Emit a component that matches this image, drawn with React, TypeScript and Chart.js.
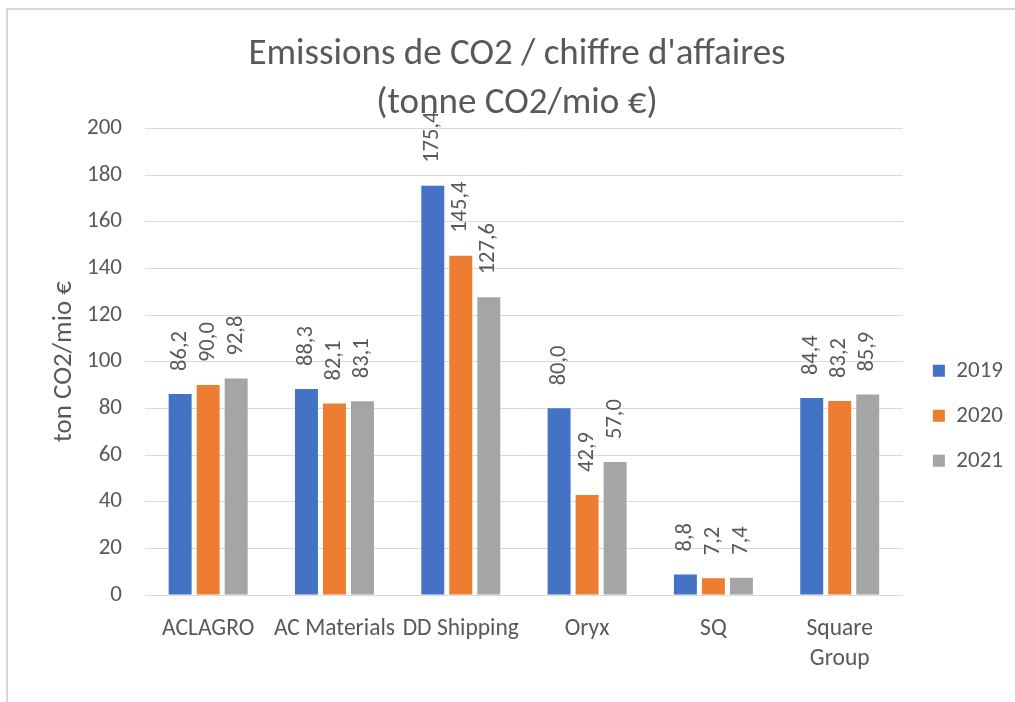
import React, { useEffect, useRef } from "react";
import { Chart, registerables } from "chart.js";

Chart.register(...registerables);

const categories: (string | string[])[] = ["ACLAGRO", "AC Materials", "DD Shipping", "Oryx", "SQ", ["Square", "Group"]];
const seriesNames = ["2019", "2020", "2021"];
const values2019 = [86.2, 88.3, 175.4, 80.0, 8.8, 84.4];
const values2020 = [90.0, 82.1, 145.4, 42.9, 7.2, 83.2];
const values2021 = [92.8, 83.1, 127.6, 57.0, 7.4, 85.9];
const seriesColors = ["#4472C4", "#ED7D31", "#A5A5A5"];
const titleLines = ["Emissions de CO2 / chiffre d'affaires", "(tonne CO2/mio €)"];
const yAxisTitle = "ton CO2/mio €";

const FONT = "Carlito, Calibri, 'Liberation Sans Narrow', 'DejaVu Sans Condensed', 'Open Sans', sans-serif";
const TEXT = "#595959";

const valueLabels = {
  id: "valueLabels",
  afterDatasetsDraw(chart: any) {
    const ctx = chart.ctx;
    ctx.save();
    ctx.fillStyle = TEXT;
    ctx.font = `22.5px ${FONT}`;
    ctx.textAlign = "left";
    ctx.textBaseline = "middle";
    chart.data.datasets.forEach((ds: any, di: number) => {
      const meta = chart.getDatasetMeta(di);
      meta.data.forEach((bar: any, i: number) => {
        const v = ds.data[i] as number;
        const txt = v.toFixed(1).replace(".", ",");
        ctx.save();
        ctx.translate(bar.x, bar.y - 23);
        ctx.rotate(-Math.PI / 2);
        ctx.fillText(txt, 0, 0);
        ctx.restore();
      });
    });
    ctx.restore();
  },
};

export default function App() {
  const ref = useRef<HTMLCanvasElement>(null);
  useEffect(() => {
    document.body.style.margin = "0";
    const chart = new Chart(ref.current!, {
      type: "bar",
      data: {
        labels: categories,
        datasets: [values2019, values2020, values2021].map((d, i) => ({
          label: seriesNames[i],
          data: d,
          backgroundColor: seriesColors[i],
          categoryPercentage: 0.665,
          barPercentage: 0.82,
        })),
      },
      options: {
        animation: false,
        responsive: false,
        layout: { padding: { top: 10, left: 21, right: 2, bottom: 27 } },
        plugins: {
          title: {
            display: true,
            text: titleLines,
            color: TEXT,
            font: { family: FONT, size: 37, weight: "normal", lineHeight: 1.33 },
            padding: { top: 20, bottom: 0 },
          },
          legend: {
            position: "right",
            fullSize: false,
            labels: {
              boxWidth: 12,
              boxHeight: 12,
              padding: 22,
              color: TEXT,
              font: { family: FONT, size: 23 },
            },
            title: { display: true, text: " ", font: { size: 1 }, padding: { top: 107, bottom: 0 } },
          },
          tooltip: { enabled: false },
        },
        scales: {
          x: {
            grid: { display: false, drawTicks: false },
            border: { color: "#D9D9D9", width: 1 },
            ticks: { color: TEXT, font: { family: FONT, size: 23.5, lineHeight: 1.28 }, padding: 19.5, maxRotation: 0, autoSkip: false },
            afterFit: (s: any) => { s.height = 80; },
          },
          y: {
            min: 0,
            max: 200,
            ticks: { stepSize: 20, color: TEXT, font: { family: FONT, size: 23 }, padding: 23 },
            grid: { color: "#D9D9D9", drawTicks: false },
            border: { display: false },
            title: { display: true, text: yAxisTitle, color: TEXT, font: { family: FONT, size: 27, lineHeight: 1.2 }, padding: { top: 26.8, bottom: 0 } },
            afterFit: (s: any) => { s.width = 124; },
          },
          ySpacer: {
            type: "linear",
            position: "right",
            display: true,
            grid: { display: false, drawTicks: false },
            border: { display: false },
            ticks: { display: false },
            afterFit: (s: any) => { s.width = 8; },
          },
        },
      },
      plugins: [valueLabels],
    });
    return () => chart.destroy();
  }, []);
  return (
    <div style={{ position: "relative", width: 1015, height: 702, overflow: "hidden", background: "#fff" }}>
      <div style={{ position: "absolute", left: 6, top: 8, width: 1015, height: 702, borderTop: "2px solid #D9D9D9", borderLeft: "2px solid #D9D9D9" }} />
      <canvas ref={ref} width={1015} height={702} style={{ position: "absolute", left: 0, top: 0 }} />
    </div>
  );
}
